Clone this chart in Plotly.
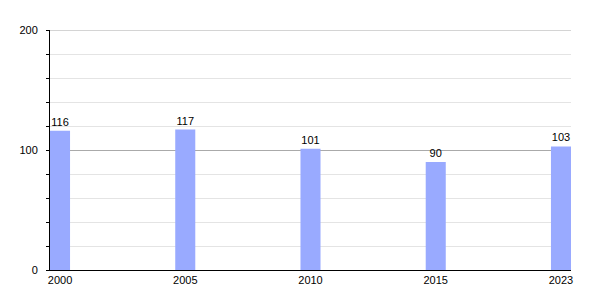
import plotly.graph_objects as go

years = ["2000", "2005", "2010", "2015", "2023"]
values = [116, 117, 101, 90, 103]

fig = go.Figure(go.Bar(
    x=years, y=values,
    text=[str(v) for v in values], textposition="outside",
    textfont=dict(family="Liberation Sans, Arial, sans-serif", size=11, color="#000"),
    marker=dict(color="#99AAFF", line=dict(width=0)),
    width=0.16, cliponaxis=False,
))

fig.add_shape(type="line", xref="paper", yref="y", x0=0, x1=1, y0=200, y1=200,
              line=dict(color="#AAAAAA", width=1), layer="below")

fig.update_layout(
    width=600, height=300,
    margin=dict(l=50, r=29, t=30, b=30),
    paper_bgcolor="white", plot_bgcolor="white",
    showlegend=False,
    font=dict(family="Liberation Sans, Arial, sans-serif", size=11, color="#000"),
    xaxis=dict(type="category", range=[-0.08, 4.08], showline=True, linecolor="#000",
               linewidth=1, ticks="", showgrid=False, tickfont=dict(size=11)),
    yaxis=dict(range=[0, 200], dtick=100, tick0=0, showline=True, linecolor="#000",
               linewidth=1, ticks="outside", ticklen=3, tickcolor="#000",
               showgrid=True, gridcolor="#AAAAAA", gridwidth=1, zeroline=False,
               tickfont=dict(size=11), ticklabelstandoff=6,
               minor=dict(dtick=20, showgrid=True, gridcolor="#E4E4E4", gridwidth=1,
                          ticks="outside", ticklen=3, tickcolor="#000")),
)

fig.write_html("out.html")
